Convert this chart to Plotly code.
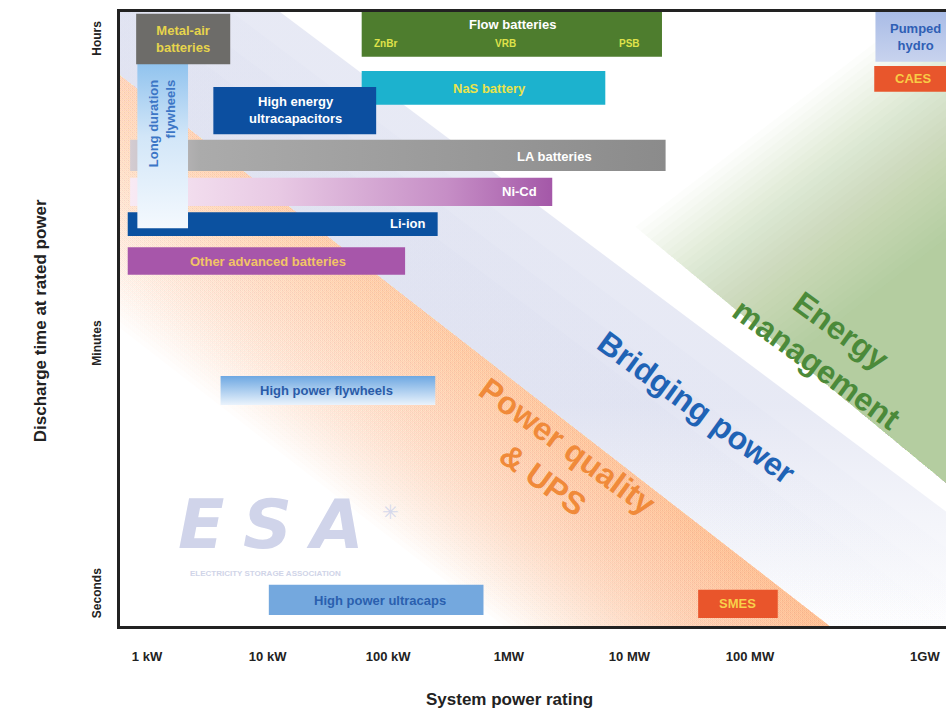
import plotly.graph_objects as go

# ---------------- data ----------------
# x: system power rating in decades above 1 kW (log10 of kW); y: relative discharge-time scale (0 bottom .. 100 top)
TECH = ["Flow batteries", "NaS battery", "Pumped<br>hydro", "CAES",
        "High energy<br>ultracapacitors", "LA batteries", "Ni-Cd", "Li-ion",
        "Other advanced batteries", "Long duration<br>flywheels", "Metal-air<br>batteries",
        "High power flywheels", "High power ultracaps", "SMES"]
P_LO = [1.78, 1.78, 6.04, 6.03, 0.55, -0.14, -0.14, -0.16, -0.16, -0.08, -0.09, 0.61, 1.01, 4.57]
P_HI = [4.27, 3.80, 6.70, 6.70, 1.90, 4.30, 3.36, 2.41, 2.14, 0.34, 0.69, 2.39, 2.79, 5.23]
T_LO = [92.7, 84.9, 91.9, 87.0, 80.1, 74.1, 68.4, 63.5, 57.2, 64.8, 91.5, 36.0, 1.8, 1.3]
T_HI = [100.0, 90.4, 100.0, 91.2, 87.8, 79.2, 73.0, 67.4, 61.7, 91.9, 99.7, 40.7, 6.7, 5.9]
LABEL_X = [3.03, 2.84, 6.37, 6.35, 1.23, 3.38, 3.09, 2.16, 1.00, 0.12, 0.30, 1.49, 1.93, 4.90]
LABEL_Y = [97.9, 87.6, 95.9, 89.1, 84.0, 76.5, 70.7, 65.5, 59.4, 81.8, 95.6, 38.3, 4.2, 3.6]

FLOW_TYPES = ["ZnBr", "VRB", "PSB"]
FLOW_X = [1.98, 2.97, 4.00]
FLOW_Y = [94.8, 94.8, 94.8]

X_TICKS = [0, 1, 2, 3, 4, 5, 6.45]
X_TICKTEXT = ["1 kW", "10 kW", "100 kW", "1MW", "10 MW", "100 MW", "1GW"]
Y_TICKS = [5.05, 45.8, 95.4]
Y_TICKTEXT = ["Seconds", "Minutes", "Hours"]

APPLICATIONS = ["Power quality<br>& UPS", "Bridging power", "Energy<br>management"]
APP_X = [3.38, 4.56, 5.655]
APP_Y = [26.5, 35.5, 45.3]

# ---------------- styles ----------------
FONT = "Liberation Sans, Arial, Helvetica, sans-serif"
X_RANGE = [-0.224, 6.625]
Y_RANGE = [0, 100]

STYLE = {
    "Flow batteries": dict(fill="#4e7d2e", font="#ffffff"),
    "NaS battery": dict(fill="#1cb2ce", font="#e9e34c"),
    "Pumped<br>hydro": dict(grad=("vertical", [[0, "#c8d3ee"], [1, "#a9bce6"]]), font="#2f5fb5"),
    "CAES": dict(fill="#e8562c", font="#f8cc45"),
    "High energy<br>ultracapacitors": dict(fill="#0c4fa0", font="#ffffff"),
    "LA batteries": dict(grad=("horizontal", [[0, "#d4ccd2"], [0.13, "#ababab"], [1, "#8b8b8b"]]), font="#ffffff"),
    "Ni-Cd": dict(grad=("horizontal", [[0, "#f8eaf4"], [0.35, "#e8c9e4"], [0.75, "#c68ec6"], [1, "#a458a8"]]), font="#ffffff"),
    "Li-ion": dict(fill="#0b51a0", font="#ffffff"),
    "Other advanced batteries": dict(fill="#a756aa", font="#f2c466"),
    "Long duration<br>flywheels": dict(grad=("vertical", [[0, "#f4f9fe"], [0.55, "#d2e6f8"], [1, "#8fc2ee"]]),
                                        font="#3c76c6", angle=-90, align="right"),
    "Metal-air<br>batteries": dict(fill="#6d6c69", font="#e6d44c"),
    "High power flywheels": dict(grad=("vertical", [[0, "#eaf3fc"], [1, "#6ea8e2"]]), font="#2a5ba8"),
    "High power ultracaps": dict(fill="#74a8de", font="#2a5fae"),
    "SMES": dict(fill="#e9552b", font="#f8d04a"),
}
APP_COLORS = ["#f08a3a", "#1f63b5", "#4b8a3a"]

fig = go.Figure()

def poly(xs, ys, fillcolor=None, fillgradient=None):
    kw = dict(x=xs + [xs[0]], y=ys + [ys[0]], mode="lines", fill="toself",
              line=dict(width=0, color="rgba(0,0,0,0)"), hoverinfo="skip", showlegend=False)
    if fillgradient is not None:
        kw["fillgradient"] = fillgradient
    else:
        kw["fillcolor"] = fillcolor
    fig.add_trace(go.Scatter(**kw))

# ---------------- background application bands ----------------
YT, YB = 140.0, -40.0
def x_orange(y):   # boundary power-quality / bridging
    return -0.224 + (y - 89.7) * (5.66 + 0.224) / (0.0 - 89.7)
def x_blue(y):     # upper edge of bridging band
    return 1.103 + (y - 100.0) * (7.89 - 1.103) / (0.0 - 100.0)
def y_green(x):    # lower edge of energy-management region
    return 61.7 - 16.2 * (x - 4.254)

# bridging power (lavender)
bc = "202,207,232"
for s, a in [(0.0, 0.45), (0.4, 0.08), (0.8, 0.08), (1.2, 0.08)]:
    poly([x_orange(YT), x_blue(YT) - s, x_blue(YB) - s, x_orange(YB)], [YT, YT, YB, YB],
         fillgradient=dict(type="vertical", start=0, stop=100,
                           colorscale=[[0, f"rgba({bc},{a*0.05:.3f})"], [0.18, f"rgba({bc},{a*0.5:.3f})"],
                                       [0.36, f"rgba({bc},{a:.3f})"], [1, f"rgba({bc},{a:.3f})"]]))

# power quality & UPS (orange, fading to lower-left)
oc = "242,135,62"
N_O = 40
a_o = 0.02
for k in range(1, N_O + 1):
    w = 2.7 * k / N_O
    poly([x_orange(YT), x_orange(YB), x_orange(YB) - w, x_orange(YT) - w], [YT, YB, YB, YT],
         fillgradient=dict(type="vertical", start=0, stop=100,
                           colorscale=[[0, f"rgba({oc},{a_o:.4f})"], [1, f"rgba({oc},{a_o*0.5:.4f})"]]))

# energy management (green, fading to upper-left)
gc = "150,196,120"
N_G = 32
for k in range(N_G):
    xc = 4.05 + (5.35 - 4.05) * k / (N_G - 1)
    c = (xc, y_green(xc))
    far = (xc + 8, y_green(xc + 8))
    nx, ny = 10.0, 151.0
    poly([c[0], far[0], far[0] + nx, c[0] + nx], [c[1], far[1], far[1] + ny, c[1] + ny],
         fillcolor=f"rgba({gc},0.026)")

# ---------------- technology boxes ----------------
for name, x0, x1, y0, y1 in zip(TECH, P_LO, P_HI, T_LO, T_HI):
    st = STYLE[name]
    if "grad" in st:
        gtype, cs = st["grad"]
        poly([x0, x1, x1, x0], [y0, y0, y1, y1], fillgradient=dict(type=gtype, colorscale=cs))
    else:
        poly([x0, x1, x1, x0], [y0, y0, y1, y1], fillcolor=st["fill"])

annotations = []
for name, lx, ly in zip(TECH, LABEL_X, LABEL_Y):
    st = STYLE[name]
    annotations.append(dict(x=lx, y=ly, xref="x", yref="y", text=f"<b>{name}</b>", showarrow=False,
                            textangle=st.get("angle", 0), align=st.get("align", "center"),
                            font=dict(family=FONT, size=st.get("size", 13), color=st["font"])))
for t, fx, fy in zip(FLOW_TYPES, FLOW_X, FLOW_Y):
    annotations.append(dict(x=fx, y=fy, xref="x", yref="y", text=f"<b>{t}</b>", showarrow=False,
                            font=dict(family=FONT, size=10, color="#dfe24a")))

# application labels
for t, ax, ay, col in zip(APPLICATIONS, APP_X, APP_Y, APP_COLORS):
    annotations.append(dict(x=ax, y=ay, xref="x", yref="y", text=f"<b>{t}</b>", showarrow=False,
                            textangle=36, font=dict(family=FONT, size=32, color=col)))

# ESA watermark
LOGO = ["E", "S", "A"]
LOGO_X = [0.45, 1.0, 1.56]
for ch, lx in zip(LOGO, LOGO_X):
    annotations.append(dict(x=lx, y=16.6, xref="x", yref="y", text=f"<b><i>{ch}</i></b>", showarrow=False,
                            font=dict(family="DejaVu Sans, sans-serif", size=68, color="#d0d4ea")))
annotations.append(dict(x=2.02, y=18.6, xref="x", yref="y", text="✳", showarrow=False,
                        font=dict(family="DejaVu Sans, sans-serif", size=20, color="#d6d9ec")))
annotations.append(dict(x=0.98, y=8.6, xref="x", yref="y", text="<b>ELECTRICITY STORAGE ASSOCIATION</b>",
                        showarrow=False, font=dict(family=FONT, size=8, color="#d0d4e8")))

# axis titles
annotations.append(dict(x=0.472, y=-0.1205, xref="paper", yref="paper", text="<b>System power rating</b>",
                        showarrow=False, yanchor="middle",
                        font=dict(family=FONT, size=17, color="#222222")))
annotations.append(dict(x=-0.0969, y=0.498, xref="paper", yref="paper",
                        text="<b>Discharge time at rated power</b>", showarrow=False, textangle=-90,
                        xanchor="center", yanchor="middle",
                        font=dict(family=FONT, size=17, color="#222222")))

fig.update_layout(
    width=946, height=716,
    margin=dict(l=120, r=0, t=12, b=90),
    paper_bgcolor="white", plot_bgcolor="white",
    showlegend=False,
    annotations=annotations,
    xaxis=dict(range=X_RANGE, tickvals=X_TICKS, ticktext=[f"<b>{t}</b>" for t in X_TICKTEXT],
               showgrid=False, zeroline=False, showline=True, linewidth=3, linecolor="#222222",
               mirror=True, ticks="", ticklabelstandoff=16,
               tickfont=dict(family=FONT, size=13, color="#222222")),
    yaxis=dict(range=Y_RANGE, tickvals=Y_TICKS, ticktext=[f"<b>{t}</b>" for t in Y_TICKTEXT],
               showgrid=False, zeroline=False, showline=True, linewidth=3, linecolor="#222222",
               mirror=False, ticks="", tickangle=-90, ticklabelstandoff=11,
               tickfont=dict(family=FONT, size=12, color="#222222")),
)

fig.write_html("out.html")
